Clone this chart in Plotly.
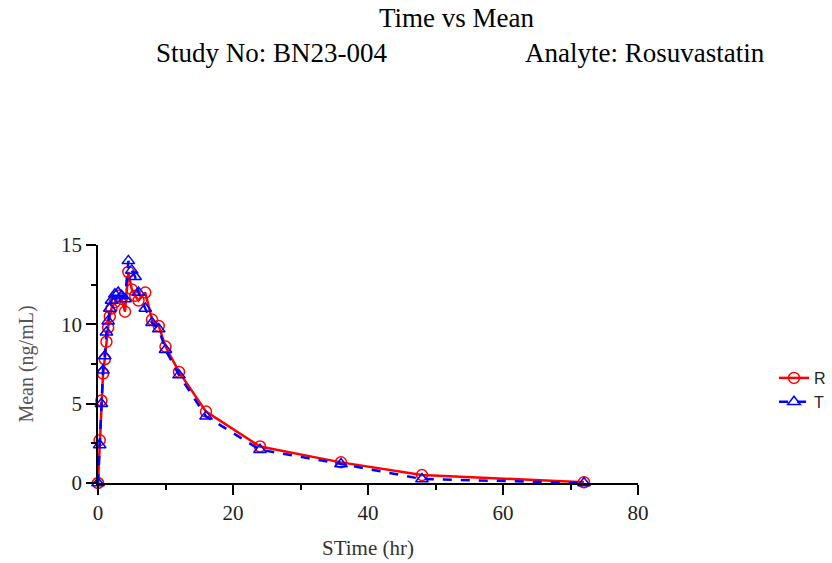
import plotly.graph_objects as go

time_hr = [0, 0.25, 0.5, 0.75, 1, 1.25, 1.5, 1.75, 2, 2.5, 3, 3.5, 4, 4.5, 5, 5.5, 6, 7, 8, 9, 10, 12, 16, 24, 36, 48, 72]
mean_R = [0, 2.7, 5.2, 6.9, 7.8, 8.9, 9.8, 10.5, 11.0, 11.4, 11.8, 11.6, 10.8, 13.3, 12.2, 11.8, 11.5, 12.0, 10.3, 9.9, 8.6, 7.0, 4.5, 2.3, 1.3, 0.5, 0.05]
mean_T = [0, 2.4, 5.0, 7.1, 8.0, 9.5, 10.2, 11.0, 11.5, 11.9, 12.0, 11.8, 11.6, 14.0, 13.4, 13.0, 12.0, 11.0, 10.1, 9.7, 8.4, 6.8, 4.2, 2.1, 1.2, 0.25, 0.0]

serif = "Liberation Serif, Times New Roman, serif"

fig = go.Figure()
fig.add_trace(go.Scatter(
    x=time_hr, y=mean_R, name="R", mode="lines+markers",
    line=dict(color="#ff0000", width=2.5),
    marker=dict(symbol="circle-open", size=11, color="#ff0000", line=dict(width=1.5)),
    cliponaxis=False,
))
fig.add_trace(go.Scatter(
    x=time_hr, y=mean_T, name="T", mode="lines+markers",
    line=dict(color="#0000ff", width=2.5, dash="dash"),
    marker=dict(symbol="triangle-up-open", size=11, color="#0000ff", line=dict(width=1.5)),
    cliponaxis=False,
))

L, R, T, B = 98, 194, 245, 80
pw, ph = 832 - L - R, 563 - T - B

def px_to_paper(px, py):
    return (px - L) / pw, (563 - B - py) / ph

anns = []
for text, (px, py) in [("Time vs Mean", (457, 18)), ("Study No: BN23-004", (272, 53)), ("Analyte: Rosuvastatin", (645, 53))]:
    x, y = px_to_paper(px, py)
    anns.append(dict(text=text, x=x, y=y, xref="paper", yref="paper", xanchor="center", yanchor="middle",
                     showarrow=False, font=dict(family=serif, size=27, color="#000")))

lx, ly = px_to_paper(774, 390)

fig.update_layout(
    width=832, height=563,
    margin=dict(l=L, r=R, t=T, b=B, autoexpand=False),
    paper_bgcolor="white", plot_bgcolor="white",
    showlegend=True,
    legend=dict(x=lx, y=ly, xanchor="left", yanchor="middle",
                font=dict(family="Liberation Sans, Arial, sans-serif", size=16, color="#222"),
                bgcolor="rgba(0,0,0,0)", tracegroupgap=2),
    font=dict(family=serif, color="#000"),
    annotations=anns,
    xaxis=dict(
        range=[0, 80], tickvals=[0, 20, 40, 60, 80], ticks="outside", ticklen=10, tickwidth=1.5,
        tickcolor="#000", showline=True, linecolor="#000", linewidth=1.5, showgrid=False, zeroline=False,
        tickfont=dict(family=serif, size=21, color="#222"),
        minor=dict(tickvals=[10, 30, 50, 70], ticks="outside", ticklen=5, tickcolor="#000", tickwidth=1.5),
        title=dict(text="STime (hr)", font=dict(family=serif, size=21, color="#333"), standoff=16),
    ),
    yaxis=dict(
        range=[0, 15], tickvals=[0, 5, 10, 15], ticks="outside", ticklen=10, tickwidth=1.5,
        tickcolor="#000", showline=True, linecolor="#000", linewidth=1.5, showgrid=False, zeroline=False,
        tickfont=dict(family=serif, size=21, color="#222"),
        minor=dict(tickvals=[2.5, 7.5, 12.5], ticks="outside", ticklen=5, tickcolor="#000", tickwidth=1.5),
        title=dict(text="Mean (ng/mL)", font=dict(family=serif, size=20, color="#555"), standoff=22),
    ),
)

fig.write_html("out.html", config={"displayModeBar": False},
               post_script="document.body.style.margin='0';")
